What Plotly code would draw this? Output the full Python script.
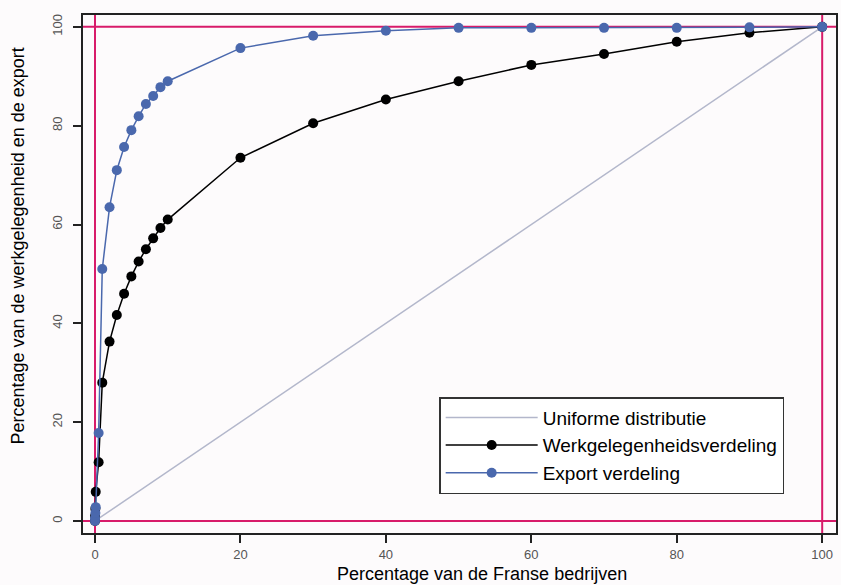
import plotly.graph_objects as go

# Data
pct_firms = [0, 0.01, 0.05, 0.1, 0.5, 1, 2, 3, 4, 5, 6, 7, 8, 9, 10,
             20, 30, 40, 50, 60, 70, 80, 90, 100]
employment = [0, 1.0, 2.5, 5.9, 11.9, 28.0, 36.3, 41.7, 46.0, 49.5, 52.5, 55.0, 57.2, 59.3, 61.0,
              73.5, 80.5, 85.3, 89.0, 92.3, 94.5, 97.0, 98.8, 100]
export = [0, 0.6, 1.6, 2.8, 17.8, 51.0, 63.5, 71.0, 75.7, 79.1, 81.9, 84.4, 86.0, 87.8, 89.0,
          95.7, 98.2, 99.2, 99.8, 99.8, 99.8, 99.8, 99.9, 100]
uniform_x = [0, 100]
uniform_y = [0, 100]
x_ticks = [0, 20, 40, 60, 80, 100]
y_ticks = [0, 20, 40, 60, 80, 100]
ref_lines = [0, 100]

names = ["Uniforme distributie", "Werkgelegenheidsverdeling", "Export verdeling"]
x_title = "Percentage van de Franse bedrijven"
y_title = "Percentage van de werkgelegenheid en de export"

PINK = "#d81b6a"
BLUE = "#4a68ad"
UNI = "#b3b7cb"
BG = "#fdfbfc"

fig = go.Figure()
fig.add_trace(go.Scatter(x=uniform_x, y=uniform_y, mode="lines", name=names[0],
                         line=dict(color=UNI, width=1.5)))
fig.add_trace(go.Scatter(x=pct_firms, y=employment, mode="lines+markers", name=names[1],
                         line=dict(color="black", width=1.5),
                         marker=dict(color="black", size=10)))
fig.add_trace(go.Scatter(x=pct_firms, y=export, mode="lines+markers", name=names[2],
                         line=dict(color=BLUE, width=1.5),
                         marker=dict(color=BLUE, size=10)))

for v in ref_lines:
    fig.add_shape(type="line", xref="x", yref="paper", x0=v, x1=v, y0=0, y1=1,
                  line=dict(color=PINK, width=2), layer="below")
    fig.add_shape(type="line", xref="paper", yref="y", x0=0, x1=1, y0=v, y1=v,
                  line=dict(color=PINK, width=2), layer="below")

fig.add_annotation(text=x_title, xref="paper", yref="paper", x=0.530, y=0,
                   yshift=-41, xanchor="center", yanchor="middle", showarrow=False,
                   font=dict(family="Arial, Liberation Sans", size=18, color="black"))
fig.add_annotation(text=y_title, xref="paper", yref="paper", x=0, y=0.553,
                   xshift=-65, xanchor="center", yanchor="middle", textangle=-90,
                   showarrow=False,
                   font=dict(family="Arial, Liberation Sans", size=18, color="black"))

axis_common = dict(showgrid=False, zeroline=False, showline=True, mirror=True,
                   linecolor="#222", linewidth=2, ticks="outside", ticklen=8,
                   tickwidth=2, tickcolor="#222",
                   tickfont=dict(family="Arial, Liberation Sans", size=13, color="#555"))

fig.update_layout(
    width=841, height=585,
    margin=dict(l=83, r=3, t=15, b=52),
    paper_bgcolor=BG, plot_bgcolor=BG,
    xaxis=dict(range=[-1.65, 101.9], tickvals=x_ticks, **axis_common),
    yaxis=dict(range=[-2.43, 102.4], tickvals=y_ticks, tickangle=-90,
               ticklabelstandoff=6, **axis_common),
    showlegend=True,
    legend=dict(x=0.473, y=0.2625, xanchor="left", yanchor="top",
                bgcolor="white", bordercolor="#333", borderwidth=1.5,
                font=dict(family="Arial, Liberation Sans", size=19, color="black"),
                itemwidth=92),
)

fig.write_html("out.html", config={"displayModeBar": False},
               post_script="document.body.style.margin='0';document.body.style.overflow='hidden';")
